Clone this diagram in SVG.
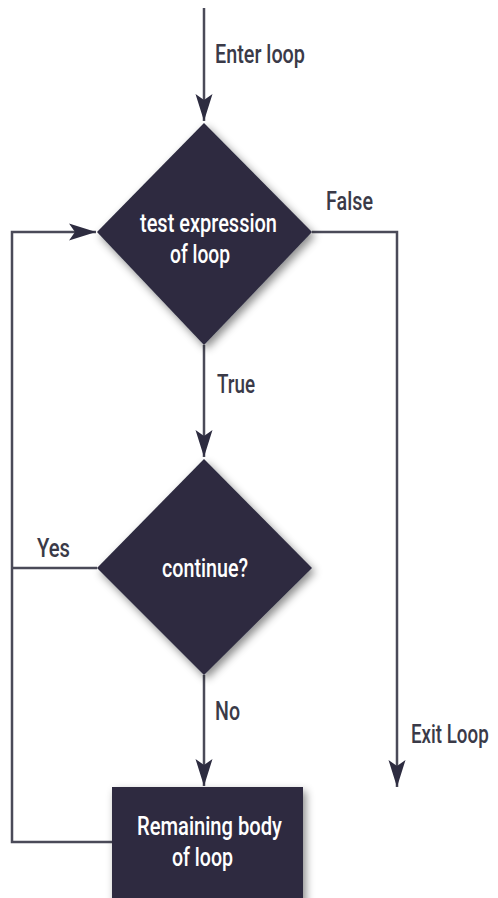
<svg xmlns="http://www.w3.org/2000/svg" width="498" height="898" viewBox="0 0 498 898">
<style>
.line{fill:none;stroke:#4a4a58;stroke-width:2.5}
.node{fill:#2d2c40;filter:url(#sh)}
.lbl{font-family:Roboto,"Liberation Sans",sans-serif;font-size:25px;font-weight:500;fill:#3a3a48}
.ntxt{font-family:Roboto,"Liberation Sans",sans-serif;font-size:25px;font-weight:500;fill:#ffffff}
</style>
<defs>
<filter id="sh" x="-20%" y="-20%" width="150%" height="150%">
<feDropShadow dx="3" dy="4" stdDeviation="4" flood-color="#000" flood-opacity="0.45"/>
</filter>
<marker id="arr" markerUnits="userSpaceOnUse" markerWidth="30" markerHeight="20" viewBox="-28 -9 30 18" refX="0" refY="0" orient="auto">
<path d="M0,0 L-27,-8.5 L-21,0 L-27,8.5 Z" fill="#2d2c40"/>
</marker>
</defs>
<g id="connectors">
<path class="line" d="M204,8 V121" marker-end="url(#arr)"/>
<path class="line" d="M312,232 H397 V787" marker-end="url(#arr)"/>
<path class="line" d="M204,345 V457" marker-end="url(#arr)"/>
<path class="line" d="M204,675 V786" marker-end="url(#arr)"/>
<path class="line" d="M97,568 H12"/>
<path class="line" d="M112,842 H12 V232 H96" marker-end="url(#arr)"/>
</g>
<g id="labels">
<text class="lbl" x="215" y="63" textLength="90" lengthAdjust="spacingAndGlyphs">Enter loop</text>
<text class="lbl" x="326" y="210" textLength="47" lengthAdjust="spacingAndGlyphs">False</text>
<text class="lbl" x="217" y="393" textLength="38" lengthAdjust="spacingAndGlyphs">True</text>
<text class="lbl" x="37" y="557" textLength="33" lengthAdjust="spacingAndGlyphs">Yes</text>
<text class="lbl" x="215" y="720" textLength="25" lengthAdjust="spacingAndGlyphs">No</text>
<text class="lbl" transform="translate(411,743) scale(0.74,1)" x="0" y="0" textLength="105" lengthAdjust="spacingAndGlyphs">Exit Loop</text>
</g>
<g id="test">
<polygon class="node" points="204,123 312,232 204,345 97,232"/>
<text class="ntxt" x="140" y="232" textLength="137" lengthAdjust="spacingAndGlyphs">test expression</text>
<text class="ntxt" x="170" y="263" textLength="60" lengthAdjust="spacingAndGlyphs">of loop</text>
</g>
<g id="continue">
<polygon class="node" points="204,459 312,568 204,675 97,568"/>
<text class="ntxt" x="162" y="577" textLength="86" lengthAdjust="spacingAndGlyphs">continue?</text>
</g>
<g id="body">
<rect class="node" x="112" y="787" width="191" height="125"/>
<text class="ntxt" x="137" y="835" textLength="145" lengthAdjust="spacingAndGlyphs">Remaining body</text>
<text class="ntxt" x="172" y="866" textLength="61" lengthAdjust="spacingAndGlyphs">of loop</text>
</g>
</svg>
